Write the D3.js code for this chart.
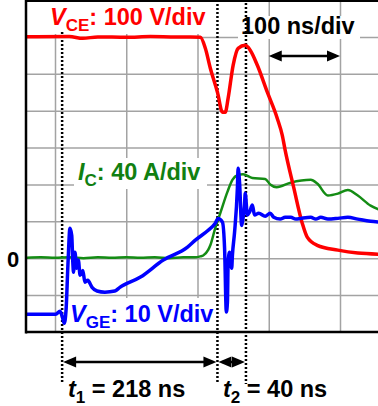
<!DOCTYPE html>
<html>
<head>
<meta charset="utf-8">
<script src="https://cdn.jsdelivr.net/npm/d3@7"></script>
<style>
  body { margin: 0; background: #fff; }
  svg { display: block; font-family: "Liberation Sans", Arial, sans-serif; font-weight: bold; }
</style>
</head>
<body>
<svg id="chart" width="378" height="406"></svg>
<script>
// Turn-on waveforms, 100 ns/div

// V_CE in V (100 V/div)
const vceTime = [-41, 20, 39, 60, 100, 134, 170, 190, 204, 211, 218, 228, 235, 239, 243, 250, 257, 267, 274, 284, 298, 312, 319, 323, 335, 347, 354, 368, 397, 425, 454];
const vceValue = [600, 601, 596, 600, 599, 601, 600, 600, 599, 569, 515, 450, 396, 396, 434, 523, 569, 577, 564, 523, 450, 379, 333, 293, 192, 95, 57, 35, 22, 14, 11];

// I_C in A (40 A/div)
const icTime = [-41, -20, 0, 20, 40, 60, 80, 100, 120, 140, 160, 180, 196, 204, 208, 215, 218, 225, 232, 242, 249, 256, 264, 277, 295, 302, 311, 331, 359, 368, 383, 397, 411, 425, 443, 454];
const icValue = [0.5, 1, 0.5, 1, 0, 1, 0.5, 1, 0.5, 1, 0, 1, 1, 2, 3, 9, 14, 33, 49, 72, 85, 90, 91, 87, 86, 80, 77, 82, 85, 81, 68, 70, 74, 68, 57, 53];

// V_GE in V (10 V/div)
const vgeTime = [-41, 1, 7, 10, 13, 15.5, 18.3, 21, 23.5, 25, 26, 28, 30.5, 32.8, 35.2, 39, 42, 46, 52, 59, 70, 84, 91, 120, 152, 186, 197, 215, 225, 229, 235, 238, 240.5, 242, 243, 245, 248, 249, 252, 256, 257, 259, 262, 263, 266, 267, 270, 273, 277, 280, 286, 295, 302, 307, 316, 323, 331, 338, 345, 359, 366, 373, 383, 397, 411, 425, 443, 454];
const vgeValue = [-15.2, -15.2, -14.4, -15.7, -17.6, -14.1, -1.1, 8.1, 6.2, -1.1, -3.8, 1.6, -2.7, -0.5, -4.6, -3.3, -6.5, -6, -7.9, -8.9, -9.2, -8.9, -7.9, -5.1, -0.5, 3, 4.9, 7.6, 9.5, 10.8, 9.8, 2.7, -14.6, -11.9, -1.1, 1.6, -2.7, 0.8, 7, 19, 24.4, 20.6, 8.9, 9.8, 14.4, 17.6, 11.7, 12.5, 14.4, 11.7, 12.2, 11.4, 12.2, 11.1, 10.6, 11.1, 11.1, 10.6, 10.8, 11.1, 10.6, 11.1, 10.6, 10.8, 11.1, 10.6, 10, 9.8];

// grid ticks
const timeTicks = [0, 100, 200, 300, 400];
const divTicks = [-1, 0, 1, 2, 3, 4, 5, 6];

// cursor times (ns)
const markerTimes = [10, 228, 268];

const width = 378;
const height = 406;
const plotLeft = 26;
const plotRight = 378;
const plotTop = 1;
const plotBottom = 332;
const fontSize = 23.5;
const subSize = 17;

const svg = d3.select("#chart");

const x = d3.scaleLinear().domain([0, 500]).range([55, 411.25]);
const y = d3.scaleLinear().domain([-2, 7]).range([plotBottom, 0]);

svg.append("defs").append("clipPath").attr("id", "plot-clip")
  .append("rect")
  .attr("x", plotLeft + 1)
  .attr("y", plotTop)
  .attr("width", plotRight - plotLeft)
  .attr("height", plotBottom - plotTop);

// Grid
const gridX = svg.append("g")
  .attr("transform", `translate(0,${plotBottom})`)
  .call(d3.axisBottom(x).tickValues(timeTicks).tickSize(-(plotBottom - plotTop)).tickFormat(""));
const gridY = svg.append("g")
  .attr("transform", `translate(${plotLeft},0)`)
  .call(d3.axisLeft(y).tickValues(divTicks).tickSize(-(plotRight - plotLeft)).tickFormat(""));
[gridX, gridY].forEach(g => {
  g.select(".domain").remove();
  g.selectAll(".tick line").attr("stroke", "#a3a3a3").attr("stroke-width", 1.5);
});

// White boxes behind the labels
const boxes = [
  [45, 2, 163, 32],
  [238, 16, 122, 23],
  [74, 158, 133, 31],
  [69, 298, 148, 33]
];
svg.selectAll("rect.box")
  .data(boxes)
  .enter()
  .append("rect")
  .attr("class", "box")
  .attr("x", d => d[0])
  .attr("y", d => d[1])
  .attr("width", d => d[2])
  .attr("height", d => d[3])
  .attr("fill", "#fff");

// Dotted cursors
const cursorTop = [32, 0, 3];
svg.selectAll("line.cursor")
  .data(markerTimes)
  .enter()
  .append("line")
  .attr("class", "cursor")
  .attr("x1", d => x(d))
  .attr("x2", d => x(d))
  .attr("y1", (d, i) => cursorTop[i])
  .attr("y2", 384)
  .attr("stroke", "#000")
  .attr("stroke-width", 2.5)
  .attr("stroke-dasharray", "2,2");

// Traces
const series = [
  { time: icTime, value: icValue, perDiv: 40, color: "#148c14", width: 2.5 },
  { time: vceTime, value: vceValue, perDiv: 100, color: "#ff0000", width: 3.5 },
  { time: vgeTime, value: vgeValue, perDiv: 10, color: "#0000ff", width: 3.5 }
];

const traces = svg.append("g").attr("clip-path", "url(#plot-clip)");
series.forEach(s => {
  const line = d3.line()
    .x((d, i) => x(s.time[i]))
    .y(d => y(d / s.perDiv))
    .curve(d3.curveMonotoneX);
  traces.append("path")
    .datum(s.value)
    .attr("d", line)
    .attr("fill", "none")
    .attr("stroke", s.color)
    .attr("stroke-width", s.width)
    .attr("stroke-linejoin", "round");
});

// Frame
svg.append("line").attr("x1", plotLeft).attr("x2", plotRight).attr("y1", plotTop).attr("y2", plotTop)
  .attr("stroke", "#000").attr("stroke-width", 2);
svg.append("line").attr("x1", plotLeft).attr("x2", plotLeft).attr("y1", 0).attr("y2", plotBottom + 1.5)
  .attr("stroke", "#000").attr("stroke-width", 2.5);
svg.append("line").attr("x1", plotLeft).attr("x2", plotRight).attr("y1", plotBottom).attr("y2", plotBottom)
  .attr("stroke", "#000").attr("stroke-width", 2.5);

// Arrows
function drawArrow(x1, x2, yy) {
  const head = 13;
  const half = 5.5;
  svg.append("line")
    .attr("x1", x1 + 4).attr("x2", x2 - 4)
    .attr("y1", yy).attr("y2", yy)
    .attr("stroke", "#000").attr("stroke-width", 2.5);
  svg.append("path")
    .attr("d", `M${x1},${yy}L${x1 + head},${yy - half}L${x1 + head},${yy + half}Z`)
    .attr("fill", "#000");
  svg.append("path")
    .attr("d", `M${x2},${yy}L${x2 - head},${yy - half}L${x2 - head},${yy + half}Z`)
    .attr("fill", "#000");
}
drawArrow(x(timeTicks[3]), x(timeTicks[4]), 56);
drawArrow(x(markerTimes[0]) + 1, x(markerTimes[1]) - 1, 362);
drawArrow(x(markerTimes[1]) + 1, x(markerTimes[2]) - 1, 362);

// Labels
function label(xx, yy, color, parts, size = fontSize) {
  const t = svg.append("text")
    .attr("x", xx)
    .attr("y", yy)
    .attr("fill", color)
    .attr("font-size", size);
  parts.forEach(p => {
    const ts = t.append("tspan").text(p.text);
    if (p.italic) ts.attr("font-style", "italic");
    if (p.sub) ts.attr("font-size", subSize).attr("dy", 6);
    if (p.back) ts.attr("dy", -6);
  });
  return t;
}

label(50, 25, "#ff0000", [
  { text: "V", italic: true },
  { text: "CE", sub: true },
  { text: ": 100 V/div", back: true }
]);
label(241, 34, "#000", [{ text: "100 ns/div" }]);
label(78, 180, "#118011", [
  { text: "I", italic: true },
  { text: "C", sub: true },
  { text: ": 40 A/div", back: true }
]);
label(70, 322, "#0000ff", [
  { text: "V", italic: true },
  { text: "GE", sub: true },
  { text: ": 10 V/div", back: true }
]);
label(7, y(0) + 9, "#000", [{ text: "0" }], 22);
label(68, 397, "#000", [
  { text: "t", italic: true },
  { text: "1", sub: true },
  { text: ` = ${markerTimes[1] - markerTimes[0]} ns`, back: true }
]);
label(223, 397, "#000", [
  { text: "t", italic: true },
  { text: "2", sub: true },
  { text: ` = ${markerTimes[2] - markerTimes[1]} ns`, back: true }
]);
</script>
</body>
</html>
